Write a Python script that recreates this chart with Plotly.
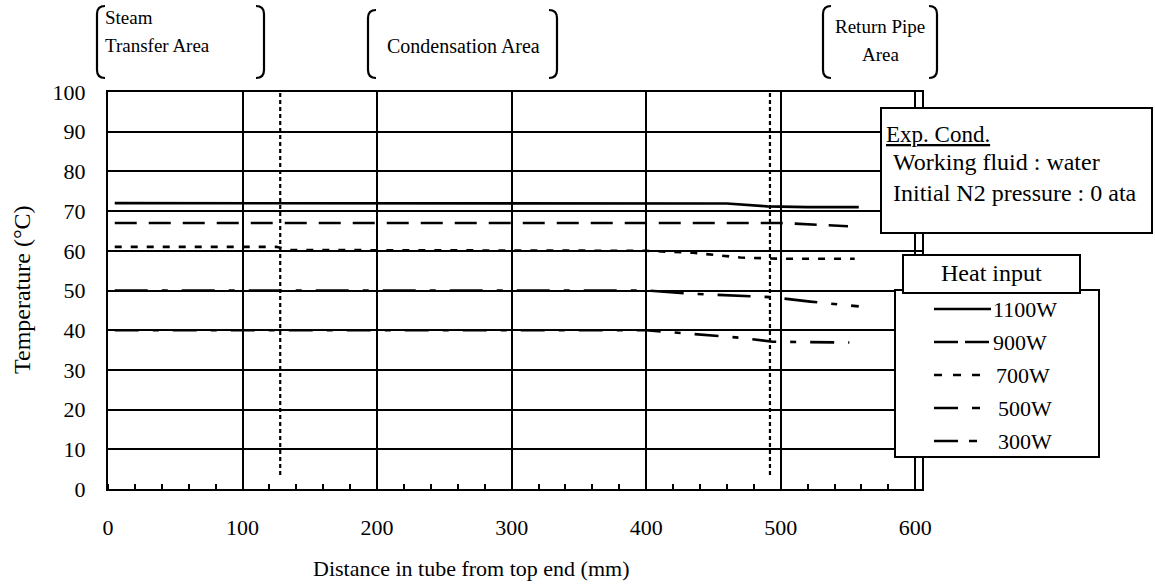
import plotly.graph_objects as go

# ---------------- data ----------------
x_1100 = [5, 100, 200, 300, 400, 460, 490, 520, 558]
y_1100 = [72, 72, 72, 72, 72, 71.9, 71.2, 71, 71]

x_900 = [5, 100, 200, 300, 400, 500, 550]
y_900 = [67, 67, 67, 67, 67, 67, 66.2]

x_700 = [5, 125, 135, 400, 435, 470, 500, 555]
y_700 = [61, 61, 60.2, 60, 59.5, 58.3, 58, 58]

x_500 = [5, 400, 433, 470, 494, 522, 558]
y_500 = [50, 50, 49.2, 48.6, 48.3, 47.2, 46]

x_300 = [5, 400, 433, 470, 494, 551]
y_300 = [40, 40, 39.1, 38.1, 37.1, 36.9]

series_names = ["1100W", "900W", "700W", "500W", "300W"]
area_bounds = [128, 492]
x_ticks = [0, 100, 200, 300, 400, 500, 600]
y_ticks = [0, 10, 20, 30, 40, 50, 60, 70, 80, 90, 100]

# ---------------- layout geometry (pixels) ----------------
W, H = 1155, 588
L, R, T, B = 108, 922, 92, 489
FONT = "Liberation Serif, Times New Roman, serif"


def px(xp):
    return (xp - L) / (R - L)


def py(yp):
    return (B - yp) / (B - T)


dashes = ["solid", "22px,12px", "7px,9px", "33px,14px,6px,14px", "24px,14px,6px,14px"]
legend_dashes = ["solid", "24px,7px", "8px,11px", "24px,14px,8px,40px", "24px,11px,8px,40px"]

fig = go.Figure()
for xs, ys, nm, ds in zip([x_1100, x_900, x_700, x_500, x_300],
                          [y_1100, y_900, y_700, y_500, y_300],
                          series_names, dashes):
    fig.add_trace(go.Scatter(x=xs, y=ys, mode="lines", name=nm,
                             line=dict(color="black", width=2.6, dash=ds),
                             showlegend=False))

shapes = []
# area boundary dotted lines
for xb in area_bounds:
    shapes.append(dict(type="line", xref="x", yref="y", x0=xb, x1=xb, y0=3.5, y1=100,
                       line=dict(color="black", width=2.2, dash="4px,3px")))


def bracket(x0, x1, y0, y1, r=8):
    p1 = (f"M {px(x0 + r)},{py(y0)} Q {px(x0)},{py(y0)} {px(x0)},{py(y0 + r)} "
          f"L {px(x0)},{py(y1 - r)} Q {px(x0)},{py(y1)} {px(x0 + r)},{py(y1)}")
    p2 = (f"M {px(x1 - r)},{py(y0)} Q {px(x1)},{py(y0)} {px(x1)},{py(y0 + r)} "
          f"L {px(x1)},{py(y1 - r)} Q {px(x1)},{py(y1)} {px(x1 - r)},{py(y1)}")
    return [dict(type="path", xref="paper", yref="paper", path=p, line=dict(color="black", width=2.2))
            for p in (p1, p2)]


shapes += bracket(97, 264, 6, 78)
shapes += bracket(368, 557, 10, 78)
shapes += bracket(823, 937, 6, 78)

# Exp. Cond. box
shapes.append(dict(type="rect", xref="paper", yref="paper", x0=px(881), x1=px(1152),
                   y0=py(233), y1=py(108), fillcolor="white", line=dict(color="black", width=2),
                   layer="above"))
# legend box
shapes.append(dict(type="rect", xref="paper", yref="paper", x0=px(895), x1=px(1099),
                   y0=py(457), y1=py(290), fillcolor="white", line=dict(color="black", width=2),
                   layer="above"))
# heat input title box
shapes.append(dict(type="rect", xref="paper", yref="paper", x0=px(903), x1=px(1080),
                   y0=py(293), y1=py(255), fillcolor="white", line=dict(color="black", width=2),
                   layer="above"))

annotations = []
leg_y = [309, 342, 375, 408, 441]
leg_tx = [991, 991, 994, 996, 996]
for nm, ds, yy, tx in zip(series_names, legend_dashes, leg_y, leg_tx):
    shapes.append(dict(type="line", xref="paper", yref="paper", x0=px(934), x1=px(991),
                       y0=py(yy), y1=py(yy), line=dict(color="black", width=2.4, dash=ds),
                       layer="above"))
    annotations.append(dict(xref="paper", yref="paper", x=px(tx), y=py(yy), text=nm,
                            showarrow=False, xanchor="left", yanchor="middle",
                            font=dict(family=FONT, size=22, color="black")))


def ann(x, y, text, size=17, xanchor="left", angle=0):
    annotations.append(dict(xref="paper", yref="paper", x=px(x), y=py(y), text=text,
                            showarrow=False, xanchor=xanchor, yanchor="middle",
                            textangle=angle, font=dict(family=FONT, size=size, color="black")))


ann(991, 273, "Heat input", 24, "center")
ann(884, 134, "<u>Exp. Cond.</u>", 23)
ann(891, 162, "Working fluid : water", 24)
ann(891, 193, "Initial N2 pressure : 0 ata", 24)

ann(103, 17, "Steam", 19)
ann(103, 45, "Transfer Area", 19)
ann(463, 46, "Condensation Area", 20, "center")
ann(880, 27, "Return Pipe", 19, "center")
ann(880, 55, "Area", 19, "center")

ann(471, 568, "Distance in tube from top end (mm)", 22, "center")
ann(22, 290, "Temperature (°C)", 24, "center", -90)

fig.update_layout(
    width=W, height=H,
    margin=dict(l=L, r=W - R, t=T, b=H - B, pad=0),
    paper_bgcolor="white", plot_bgcolor="white",
    shapes=shapes, annotations=annotations,
    font=dict(family=FONT, size=22, color="black"),
    xaxis=dict(range=[0, 605], tickvals=x_ticks, ticks="", showgrid=True, gridcolor="black",
               gridwidth=2, showline=True, linecolor="black", linewidth=2.2, mirror=True,
               zeroline=False, ticklabelstandoff=17,
               tickfont=dict(family=FONT, size=22, color="black"),
               minor=dict(dtick=20, tick0=0, ticks="inside", ticklen=5, tickcolor="black",
                          tickwidth=1.6, showgrid=False)),
    yaxis=dict(range=[0, 100], tickvals=y_ticks, ticks="", showgrid=True, gridcolor="black",
               gridwidth=2, showline=True, linecolor="black", linewidth=2.2, mirror=True,
               zeroline=False, ticklabelstandoff=16,
               tickfont=dict(family=FONT, size=22, color="black")),
)

fig.write_html("out.html")
